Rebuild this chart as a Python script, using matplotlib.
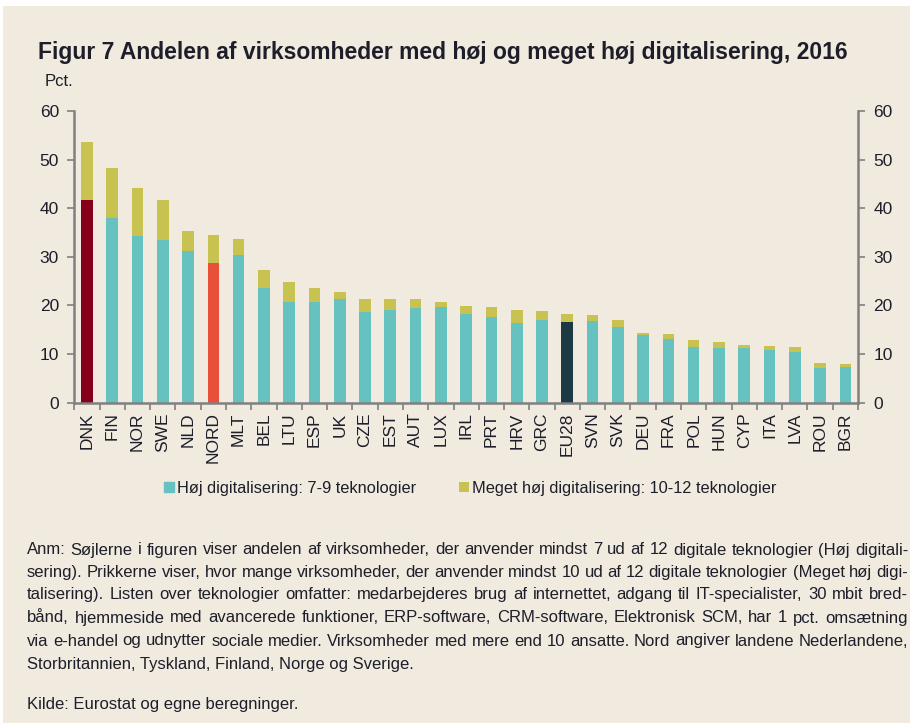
import matplotlib
matplotlib.use("Agg")
import matplotlib.pyplot as plt
from matplotlib.patches import Rectangle

plt.rcParams['font.family'] = ['Liberation Sans', 'DejaVu Sans']

countries = ["DNK", "FIN", "NOR", "SWE", "NLD", "NORD", "MLT", "BEL", "LTU", "ESP",
             "UK", "CZE", "EST", "AUT", "LUX", "IRL", "PRT", "HRV", "GRC", "EU28",
             "SVN", "SVK", "DEU", "FRA", "POL", "HUN", "CYP", "ITA", "LVA", "ROU", "BGR"]
hoej = [41.7, 37.9, 34.2, 33.5, 31.3, 28.8, 30.4, 23.5, 20.8, 20.8,
        21.3, 18.7, 19.0, 19.4, 19.7, 18.3, 17.7, 16.3, 17.0, 16.7,
        16.9, 15.6, 13.9, 13.0, 11.5, 11.3, 11.2, 10.8, 10.4, 7.1, 7.4]
meget_hoej = [11.9, 10.3, 10.0, 8.1, 4.1, 5.6, 3.2, 3.7, 4.0, 2.7,
              1.4, 2.7, 2.3, 1.9, 1.1, 1.5, 2.0, 2.7, 1.9, 1.6,
              1.1, 1.4, 0.5, 1.1, 1.4, 1.2, 0.7, 0.9, 1.0, 1.0, 0.5]
yticks = [0, 10, 20, 30, 40, 50, 60]

BG = '#F0EADF'
TEAL = '#66C2C0'
OLIVE = '#C8C251'
special = {"DNK": '#870019', "NORD": '#E9503A', "EU28": '#1C3A44'}
AXC = '#808080'
TXT = '#1E1E2A'

W, H = 913, 723
fig = plt.figure(figsize=(W / 100, H / 100), dpi=100)
fig.patch.set_facecolor('white')
fig.patches.append(Rectangle((3 / W, 0), 907 / W, 717 / H, transform=fig.transFigure,
                             facecolor=BG, edgecolor='none', zorder=-10))

ax = fig.add_axes([74.3 / W, 320.3 / H, 783.7 / W, 291.7 / H])
ax.set_facecolor('none')
x = list(range(len(countries)))
cols = [special.get(c, TEAL) for c in countries]
ax.bar(x, hoej, width=0.46, color=cols, label='Høj digitalisering: 7-9 teknologier', zorder=2)
ax.bar(x, meget_hoej, bottom=hoej, width=0.46, color=OLIVE,
       label='Meget høj digitalisering: 10-12 teknologier', zorder=2)

ax.set_xlim(-0.5, len(countries) - 0.5)
ax.set_ylim(0, 60)
ax.set_yticks(yticks)
ax.set_xticks(x)
ax.set_xticklabels(countries, rotation=90, fontsize=12.5, color=TXT)
ax.set_xticks([i + 0.5 for i in range(-1, len(countries))], minor=True)
ax.tick_params(axis='x', which='major', length=0, pad=7)
ax.tick_params(axis='x', which='minor', length=5, width=1.2, color=AXC, direction='out')
ax.tick_params(axis='y', which='major', length=5, width=1.2, color=AXC, direction='out',
               labelsize=12.5, labelcolor=TXT, pad=6, right=True, labelright=True)
for s in ['left', 'right', 'bottom']:
    ax.spines[s].set_color(AXC)
    ax.spines[s].set_linewidth(1.8)
ax.spines['top'].set_visible(False)

fig.text(38 / W, 1 - 53 / H, 'Figur 7 Andelen af virksomheder med høj og meget høj digitalisering, 2016',
         fontsize=16.5, fontweight='bold', color=TXT, va='center', ha='left')
fig.text(45 / W, 1 - 82 / H, 'Pct.', fontsize=12, color=TXT, va='center', ha='left')

h, l = ax.get_legend_handles_labels()
h[0] = Rectangle((0, 0), 1, 1, color=TEAL)
fig.legend(h, l, loc='center', bbox_to_anchor=(470 / W, 1 - 488 / H), ncol=2,
           frameon=False, fontsize=11.8, handlelength=0.6, handleheight=0.6,
           handletextpad=0.2, columnspacing=2.6, labelcolor=TXT)

lines = [
    "Anm: Søjlerne i figuren viser andelen af virksomheder, der anvender mindst 7 ud af 12 digitale teknologier (Høj digitali-",
    "sering). Prikkerne viser, hvor mange virksomheder, der anvender mindst 10 ud af 12 digitale teknologier (Meget høj digi-",
    "talisering). Listen over teknologier omfatter: medarbejderes brug af internettet, adgang til IT-specialister, 30 mbit bred-",
    "bånd, hjemmeside med avancerede funktioner, ERP-software, CRM-software, Elektronisk SCM, har 1 pct. omsætning",
    "via e-handel og udnytter sociale medier. Virksomheder med mere end 10 ansatte. Nord angiver landene Nederlandene,",
    "Storbritannien, Tyskland, Finland, Norge og Sverige.",
]
ys = [549, 571.5, 593.5, 617, 640, 664]
justify = [True, True, True, True, True, False]
FS = 12
x0, x1 = 27, 908
BOFF = 5.5
renderer = fig.canvas.get_renderer()
for t, yy, j in zip(lines, ys, justify):
    yb = 1 - (yy + BOFF) / H
    if not j:
        fig.text(x0 / W, yb, t, fontsize=FS, color=TXT, va='baseline', ha='left')
        continue
    words = t.split(' ')
    objs = [fig.text(0, yb, w, fontsize=FS, color=TXT, va='baseline', ha='left') for w in words]
    widths = [o.get_window_extent(renderer).width for o in objs]
    gap = (x1 - x0 - sum(widths)) / (len(words) - 1)
    cx = x0
    for o, wd in zip(objs, widths):
        o.set_x(cx / W)
        cx += wd + gap
fig.text(x0 / W, 1 - (703 + BOFF) / H, "Kilde: Eurostat og egne beregninger.", fontsize=FS, color=TXT,
         va='baseline', ha='left')

fig.savefig('out.png', dpi=100, facecolor=fig.get_facecolor())
